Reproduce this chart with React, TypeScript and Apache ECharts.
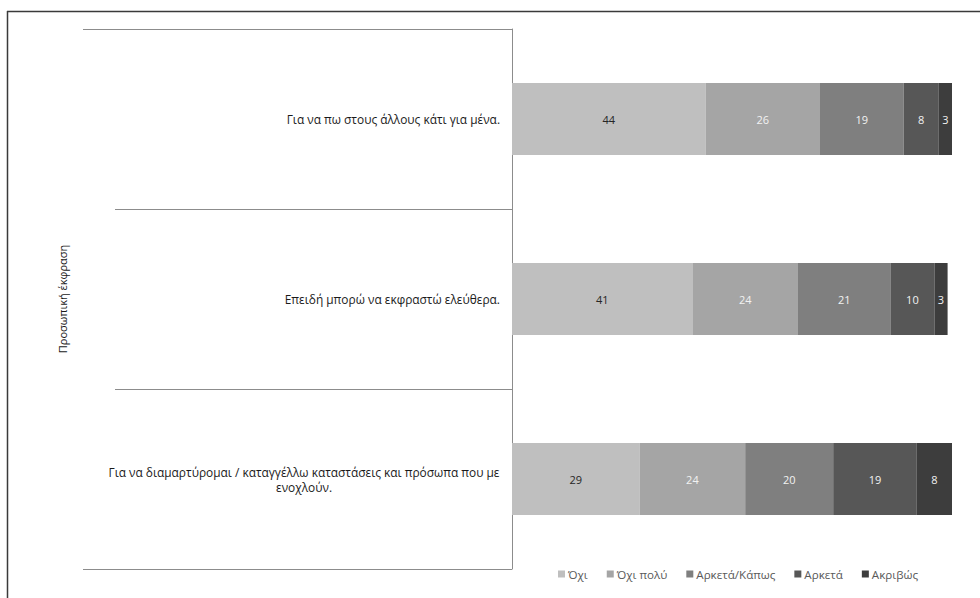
import React, { useEffect, useRef } from "react";
import * as echarts from "echarts";

// Statements (top to bottom) and the group they belong to
const categories = [
  "Για να πω στους άλλους κάτι για μένα.",
  "Επειδή μπορώ να εκφραστώ ελεύθερα.",
  "Για να διαμαρτύρομαι / καταγγέλλω καταστάσεις και πρόσωπα που με ενοχλούν.",
];
const groupLabel = ["Προσωπική έκφραση"];

// Answer scale
const answers = ["Όχι", "Όχι πολύ", "Αρκετά/Κάπως", "Αρκετά", "Ακριβώς"];

// Percentages per answer, one value per statement
const oxi = [44, 41, 29];
const oxiPoly = [26, 24, 24];
const arketaKapos = [19, 21, 20];
const arketa = [8, 10, 19];
const akrivos = [3, 3, 8];

const seriesValues = [oxi, oxiPoly, arketaKapos, arketa, akrivos];
const colors = ["#bfbfbf", "#a5a5a5", "#7f7f7f", "#575757", "#3d3d3d"];
const labelColors = ["#262626", "#f2f2f2", "#f2f2f2", "#f2f2f2", "#f2f2f2"];

const FONT = "'Open Sans', sans-serif";
const LABEL_SIZE = 11.9;

// Greedy word wrap so long statements break onto a second line
function wrap(text: string, maxChars: number): string[] {
  const words = text.split(" ");
  const lines: string[] = [];
  let cur = "";
  for (const w of words) {
    const next = cur ? cur + " " + w : w;
    if (next.length > maxChars && cur) {
      lines.push(cur);
      cur = w;
    } else {
      cur = next;
    }
  }
  if (cur) lines.push(cur);
  return lines;
}

export default function App() {
  const ref = useRef<HTMLDivElement>(null);

  useEffect(() => {
    if (!ref.current) return;
    const chart = echarts.init(ref.current, null, { renderer: "svg" });

    chart.setOption({
      animation: false,
      backgroundColor: "#ffffff",
      textStyle: { fontFamily: FONT },
      graphic: [
        {
          type: "line",
          shape: { x1: 7, y1: 11.5, x2: 980, y2: 11.5 },
          style: { stroke: "#3a3a3a", lineWidth: 1.5 },
        },
        {
          type: "line",
          shape: { x1: 7.5, y1: 11, x2: 7.5, y2: 598 },
          style: { stroke: "#3a3a3a", lineWidth: 1.5 },
        },
      ],
      legend: {
        data: answers,
        left: 553,
        top: 563,
        itemWidth: 7,
        itemHeight: 7,
        itemGap: 19,
        icon: "rect",
        textStyle: { fontFamily: FONT, fontSize: 11.6, color: "#595959", padding: [0, 0, 0, -2] },
      },
      grid: { left: 512, right: 28, top: 29, bottom: 29, containLabel: false },
      xAxis: {
        type: "value",
        min: 0,
        max: 100,
        show: false,
      },
      yAxis: [
        {
          type: "category",
          data: categories,
          inverse: true,
          axisLine: { show: true, lineStyle: { color: "#8c8c8c", width: 1 } },
          axisTick: { show: true, length: 397, lineStyle: { color: "#8c8c8c", width: 1 } },
          splitLine: { show: false },
          axisLabel: {
            margin: 12,
            fontFamily: FONT,
            fontSize: LABEL_SIZE,
            color: "#1a1a1a",
            lineHeight: 15,
            // wrapped statements: lines centred on one another, block right-aligned
            formatter: (v: string) => {
              const lines = wrap(v, 66);
              if (lines.length === 1) return v;
              return lines.map((l) => "{w|" + l + "}").join("\n");
            },
            rich: {
              w: {
                width: 392,
                align: "center",
                fontFamily: FONT,
                fontSize: LABEL_SIZE,
                color: "#1a1a1a",
                lineHeight: 15,
              },
            },
          },
        },
        {
          type: "category",
          data: groupLabel,
          position: "left",
          axisLine: { show: false },
          axisTick: { show: true, length: 429, lineStyle: { color: "#8c8c8c", width: 1 } },
          axisLabel: {
            rotate: 90,
            margin: 444,
            fontFamily: FONT,
            fontSize: 11,
            color: "#1a1a1a",
          },
        },
      ],
      series: answers.map((name, i) => ({
        name,
        type: "bar",
        stack: "total",
        yAxisIndex: 0,
        barWidth: 72,
        data: seriesValues[i],
        itemStyle: { color: colors[i] },
        label: {
          show: true,
          position: "inside",
          fontFamily: FONT,
          fontSize: 11,
          color: labelColors[i],
        },
      })),
    });

    return () => chart.dispose();
  }, []);

  return (
    <div
      ref={ref}
      style={{ position: "fixed", left: 0, top: 0, width: 980, height: 598 }}
    />
  );
}
